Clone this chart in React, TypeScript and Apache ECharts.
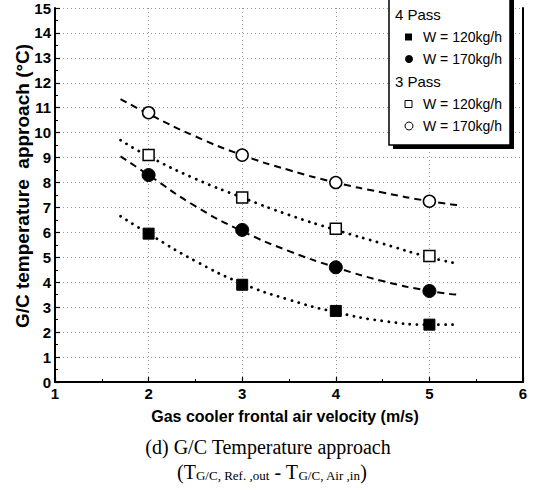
import React, { useEffect, useRef } from "react";
import * as echarts from "echarts";

// Measured points
const velocities = [2, 3, 4, 5];
const pass4W120 = [5.95, 3.9, 2.85, 2.3];
const pass4W170 = [8.3, 6.1, 4.6, 3.65];
const pass3W120 = [9.1, 7.4, 6.15, 5.05];
const pass3W170 = [10.8, 9.1, 8.0, 7.25];

// Trend curves
const fitX = [1.7, 2, 2.5, 3, 3.5, 4, 4.5, 5, 5.3];
const fit4W120 = [6.65, 5.95, 4.85, 3.95, 3.3, 2.8, 2.45, 2.3, 2.3];
const fit4W170 = [9.05, 8.3, 7.05, 6.05, 5.25, 4.6, 4.05, 3.65, 3.5];
const fit3W120 = [9.7, 9.05, 8.15, 7.4, 6.7, 6.1, 5.55, 5.0, 4.75];
const fit3W170 = [11.35, 10.75, 9.85, 9.1, 8.5, 8.0, 7.6, 7.25, 7.1];

const xTitle = "Gas cooler frontal air velocity (m/s)";
const yTitle = "G/C temperature  approach (°C)";
const caption1 = "(d) G/C Temperature approach";

const pair = (xs: number[], ys: number[]) => xs.map((x, i) => [x, ys[i]]);

export default function App() {
  const ref = useRef<HTMLDivElement>(null);
  useEffect(() => {
    const chart = echarts.init(ref.current!, null, { renderer: "svg" });
    const sans = "Liberation Sans, Arial, sans-serif";
    const serif = "Liberation Serif, Times New Roman, serif";
    const dotted = { color: "#000", width: 2.8, type: [0.1, 7] as any, cap: "round" as any };
    const dashed = { color: "#000", width: 2, type: [7, 5] as any };
    const fitSeries = (data: number[], ls: any) => ({
      type: "line",
      data: pair(fitX, data),
      smooth: true,
      showSymbol: false,
      symbol: "none",
      lineStyle: ls,
      z: 2,
      silent: true,
    });
    const scat = (data: number[], symbol: string, size: number, filled: boolean) => ({
      type: "scatter",
      data: pair(velocities, data),
      symbol,
      symbolSize: size,
      itemStyle: filled
        ? { color: "#000", borderColor: "#000", borderWidth: 1, opacity: 1 }
        : { color: "#fff", borderColor: "#000", borderWidth: 1.5, opacity: 1 },
      z: 5,
    });

    const legendX = 389;
    const items = [
      { t: "4 Pass", y: 14, head: true },
      { t: "W = 120kg/h", y: 37, sym: "sq", fill: true },
      { t: "W = 170kg/h", y: 59, sym: "ci", fill: true },
      { t: "3 Pass", y: 81, head: true },
      { t: "W = 120kg/h", y: 104, sym: "sq", fill: false },
      { t: "W = 170kg/h", y: 126, sym: "ci", fill: false },
    ];
    const legendEls: any[] = [
      { type: "rect", shape: { x: legendX + 4, y: -6, width: 121, height: 155 }, style: { fill: "#000" }, z: 10 },
      { type: "rect", shape: { x: legendX, y: -10, width: 121, height: 155 }, style: { fill: "#fff", stroke: "#000", lineWidth: 1.5 }, z: 11 },
    ];
    items.forEach((it: any) => {
      if (it.head) {
        legendEls.push({
          type: "text", x: legendX + 6, y: it.y, z: 12,
          style: { text: it.t, font: `15px ${sans}`, fill: "#000", verticalAlign: "middle" },
        });
      } else {
        if (it.sym === "sq") {
          legendEls.push({
            type: "rect", z: 12,
            shape: { x: legendX + 16, y: it.y - 3.5, width: 7, height: 7 },
            style: it.fill ? { fill: "#000" } : { fill: "#fff", stroke: "#000", lineWidth: 1 },
          });
        } else {
          legendEls.push({
            type: "circle", z: 12,
            shape: { cx: legendX + 20, cy: it.y, r: 4 },
            style: it.fill ? { fill: "#000" } : { fill: "#fff", stroke: "#000", lineWidth: 1 },
          });
        }
        legendEls.push({
          type: "text", x: legendX + 34, y: it.y, z: 12,
          style: { text: it.t, font: `14px ${sans}`, fill: "#000", verticalAlign: "middle" },
        });
      }
    });

    const tickLabel = { color: "#000", fontSize: 15, fontFamily: sans, fontWeight: "bold" as any, margin: 4 };

    chart.setOption({
      animation: false,
      backgroundColor: "#fff",
      grid: { left: 55, right: 10, top: 8, bottom: 112, show: false },
      xAxis: [
        {
          type: "value", min: 1, max: 6, interval: 1,
          axisLine: { lineStyle: { color: "#000", width: 2 } },
          axisTick: { inside: true, length: 5, lineStyle: { color: "#000", width: 1.2 } },
          minorTick: { show: true, splitNumber: 2, length: 3, lineStyle: { color: "#000" } },
          axisLabel: tickLabel,
          splitLine: { show: true, lineStyle: { color: "#999", type: [1, 3], width: 1 } },
        },
        {
          type: "value", min: 1, max: 6, interval: 1, position: "top",
          axisLine: { show: true, lineStyle: { color: "#000", width: 2 } },
          axisTick: { show: false }, axisLabel: { show: false }, splitLine: { show: false },
        },
      ],
      yAxis: [
        {
          type: "value", min: 0, max: 15, interval: 1,
          axisLine: { show: true, lineStyle: { color: "#000", width: 2 } },
          axisTick: { show: true, inside: true, length: 5, lineStyle: { color: "#000", width: 1.2 } },
          minorTick: { show: true, splitNumber: 2, length: 3, lineStyle: { color: "#000" } },
          axisLabel: tickLabel,
          splitLine: { show: true, lineStyle: { color: "#999", type: [1, 3], width: 1 } },
        },
        {
          type: "value", min: 0, max: 15, interval: 1, position: "right",
          axisLine: { show: true, lineStyle: { color: "#000", width: 2 } },
          axisTick: { show: false }, axisLabel: { show: false }, splitLine: { show: false },
        },
      ],
      series: [
        fitSeries(fit3W170, dashed),
        fitSeries(fit3W120, dotted),
        fitSeries(fit4W170, dashed),
        fitSeries(fit4W120, dotted),
        scat(pass4W120, "rect", 11, true),
        scat(pass4W170, "circle", 13, true),
        scat(pass3W120, "rect", 11, false),
        scat(pass3W170, "circle", 12, false),
      ],
      graphic: [
        ...legendEls,
        {
          type: "text", x: 22, y: 186, rotation: Math.PI / 2, z: 12,
          style: { text: yTitle, font: `bold 19px ${sans}`, fill: "#000", align: "center", verticalAlign: "middle" },
        },
        {
          type: "text", x: 285, y: 416, z: 12,
          style: { text: xTitle, font: `bold 16px ${sans}`, fill: "#000", align: "center", verticalAlign: "middle" },
        },
        {
          type: "text", x: 268, y: 447, z: 12,
          style: { text: caption1, font: `20px ${serif}`, fill: "#000", align: "center", verticalAlign: "middle" },
        },
        {
          type: "text", x: 272, y: 471, z: 12,
          style: {
            text: "{m|(T}{s|G/C, Ref. ,out}{m| - T}{s|G/C, Air ,in}{m|)}",
            align: "center", verticalAlign: "middle",
            rich: {
              m: { fontFamily: serif, fontSize: 20, fill: "#000", color: "#000", verticalAlign: "bottom", lineHeight: 22 },
              s: { fontFamily: serif, fontSize: 13, fill: "#000", color: "#000", verticalAlign: "bottom", lineHeight: 16 },
            },
          },
        },
      ],
    });
    return () => chart.dispose();
  }, []);
  return <div ref={ref} style={{ position: "fixed", left: 0, top: 0, width: 533, height: 494 }} />;
}
